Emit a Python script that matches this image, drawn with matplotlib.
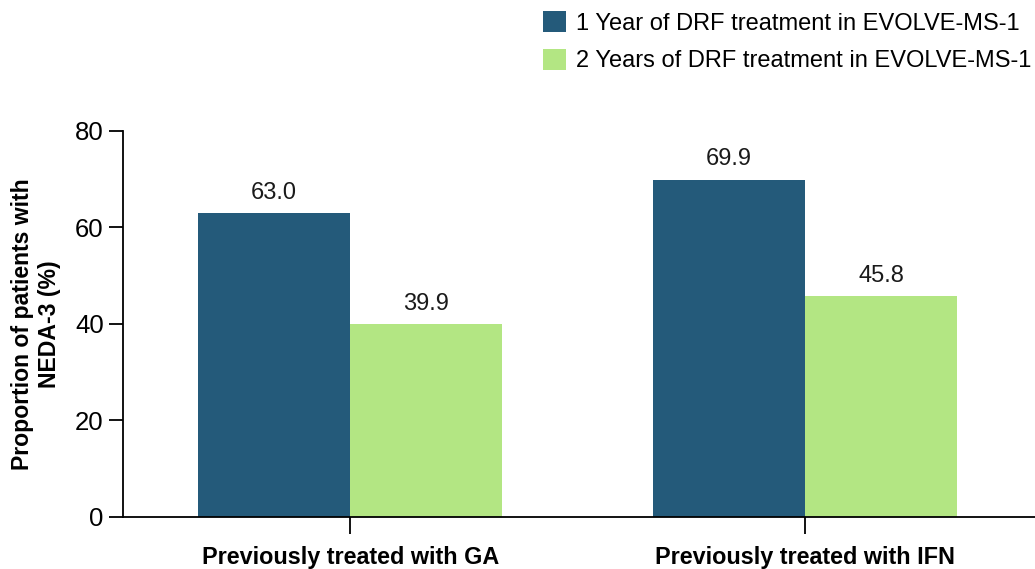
import matplotlib
matplotlib.use("Agg")
import matplotlib.pyplot as plt
import numpy as np
from matplotlib.patches import Patch

plt.rcParams["font.family"] = ["Liberation Sans", "DejaVu Sans"]

groups = ["Previously treated with GA", "Previously treated with IFN"]
series_names = ["1 Year of DRF treatment in EVOLVE-MS-1",
                "2 Years of DRF treatment in EVOLVE-MS-1"]
year1 = [63.0, 69.9]
year2 = [39.9, 45.8]
colors = ["#245a7a", "#b3e683"]

fig = plt.figure(figsize=(10.35, 5.69), dpi=100)
ax = fig.add_axes([0.119, 0.0914, 0.881, 0.6786])

x = np.arange(len(groups))
w = 0.334
b1 = ax.bar(x - w / 2, year1, width=w, color=colors[0])
b2 = ax.bar(x + w / 2, year2, width=w, color=colors[1])

for bars, vals in [(b1, year1), (b2, year2)]:
    for bar, v in zip(bars, vals):
        ax.text(bar.get_x() + bar.get_width() / 2, v + 1.9, f"{v:.1f}",
                ha="center", va="bottom", fontsize=17, color="#1a1a1a")

ax.set_ylim(0, 80)
ax.set_xlim(-0.499, 1.505)
ax.set_yticks([0, 20, 40, 60, 80])
ax.set_xticks(x)
ax.set_xticklabels(groups, fontsize=16.8, fontweight="bold")
ax.tick_params(axis="y", labelsize=18.5, length=10, width=1.3, pad=4)
ax.tick_params(axis="x", length=12, width=1.3, pad=9)
for s in ["top", "right"]:
    ax.spines[s].set_visible(False)
for s in ["left", "bottom"]:
    ax.spines[s].set_linewidth(1.3)
ax.set_ylabel("Proportion of patients with\nNEDA-3 (%)", fontsize=16.6,
              fontweight="bold", labelpad=10, linespacing=1.2)

handles = [Patch(facecolor=c) for c in colors]
fig.legend(handles, series_names, loc="upper right", bbox_to_anchor=(1.017, 1.018),
           frameon=False, fontsize=17, handlelength=0.97, handleheight=1.0,
           handletextpad=0.42, labelspacing=0.6)

fig.savefig("out.png", dpi=100)
